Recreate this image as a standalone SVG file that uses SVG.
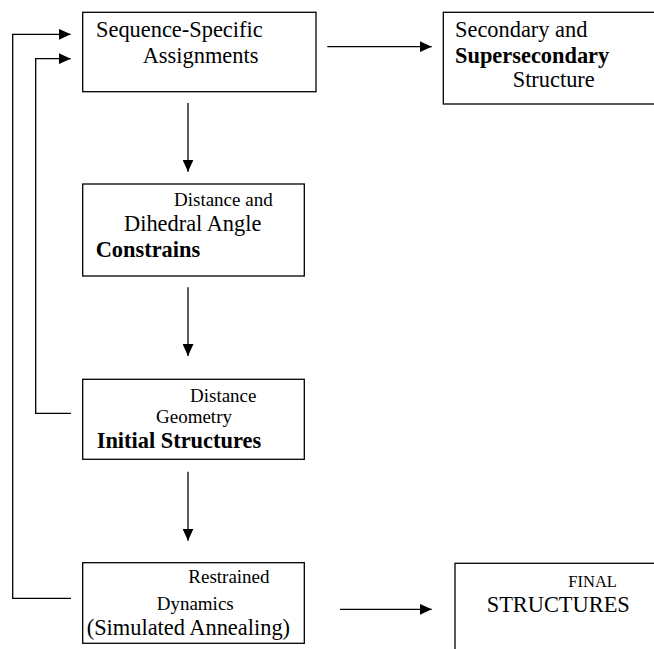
<svg xmlns="http://www.w3.org/2000/svg" width="654" height="649" viewBox="0 0 654 649">
<style>
.box{fill:#fff;stroke:#000;stroke-width:1.3}
.ln{fill:none;stroke:#000;stroke-width:1.3}
text{font-family:'Liberation Serif','Times New Roman',Times,'DejaVu Serif',serif;fill:#000}
.L{font-size:22.4px}
.S{font-size:19px}
.b{font-weight:bold}
</style>
<defs>
<marker id="ah" viewBox="0 0 12 11" refX="12" refY="5.5" markerWidth="12" markerHeight="11" markerUnits="userSpaceOnUse" orient="auto">
<path d="M0,0 L12,5.5 L0,11 Z" fill="#000"/>
</marker>
</defs>
<rect width="654" height="649" fill="#fff"/>
<g id="connectors">
<path class="ln" d="M188,103 V171.7" marker-end="url(#ah)"/>
<path class="ln" d="M188,287.3 V356" marker-end="url(#ah)"/>
<path class="ln" d="M188,471.7 V540.7" marker-end="url(#ah)"/>
<path class="ln" d="M327.3,46.7 H431.7" marker-end="url(#ah)"/>
<path class="ln" d="M340,609.3 H431.7" marker-end="url(#ah)"/>
<path class="ln" d="M71,413.3 H35.7 V58.7 H70.7" marker-end="url(#ah)"/>
<path class="ln" d="M71,598.3 H12.7 V34.3 H70.7" marker-end="url(#ah)"/>
</g>
<g id="n1">
<rect class="box" x="82.7" y="12.3" width="233.3" height="79.4"/>
<text class="L" x="96" y="37.3" font-family="Liberation Serif, serif">Sequence-Specific</text>
<text class="L" x="142.7" y="63.3">Assignments</text>
</g>
<g id="n2">
<rect class="box" x="443.3" y="12.3" width="230" height="91.7"/>
<text class="L" x="455" y="36.7">Secondary and</text>
<text class="L b" x="455" y="62.7">Supersecondary</text>
<text class="L" x="512.7" y="87.3">Structure</text>
</g>
<g id="n3">
<rect class="box" x="82.7" y="184" width="221.6" height="92"/>
<text class="S" x="174" y="206">Distance and</text>
<text class="L" x="124" y="231">Dihedral Angle</text>
<text class="L b" x="95.7" y="256.7">Constrains</text>
</g>
<g id="n4">
<rect class="box" x="82.7" y="379.3" width="221.6" height="80"/>
<text class="S" x="190" y="401.7">Distance</text>
<text class="S" x="156" y="423.3">Geometry</text>
<text class="L b" x="96.7" y="448.3">Initial Structures</text>
</g>
<g id="n5">
<rect class="box" x="82.7" y="562.7" width="221.6" height="80.6"/>
<text class="S" x="188.3" y="583.3">Restrained</text>
<text class="S" x="156.7" y="610">Dynamics</text>
<text class="L" x="86.7" y="635">(Simulated Annealing)</text>
</g>
<g id="n6">
<rect class="box" x="455" y="563.3" width="220" height="110"/>
<text class="S" x="568.3" y="586.7" style="font-size:16.5px">FINAL</text>
<text class="L" x="486.7" y="611.7">STRUCTURES</text>
</g>
</svg>
